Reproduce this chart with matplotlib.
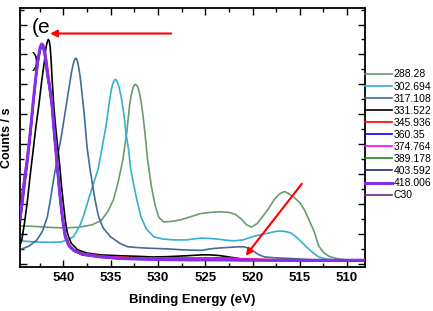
import matplotlib
matplotlib.use("Agg")
import matplotlib.pyplot as plt
from matplotlib.ticker import MultipleLocator, NullFormatter

plt.rcParams['font.family'] = ['Liberation Sans', 'DejaVu Sans']

# curve labels and colours (legend order)
labels = ["288.28", "302.694", "317.108", "331.522", "345.936", "360.35",
          "374.764", "389.178", "403.592", "418.006", "C30"]
colors = ["#6a9b6f", "#35afcf", "#3f6c9b", "#000000", "#ff0000", "#0000ff",
          "#ff00ff", "#238b23", "#1c267c", "#8431e6", "#7a1f8c"]

# separated peaks, each with its own energy grid (eV) and counts (a.u.)
e_288 = [544.6, 543.0, 541.5, 540.0, 538.5, 537.0, 536.0, 535.3, 534.7, 534.2,
         533.7, 533.3, 533.0, 532.85, 532.7, 532.55, 532.4, 532.25, 532.1, 531.95,
         531.8, 531.6, 531.4, 531.1, 530.7, 530.3, 529.9, 529.4, 528.5, 527.5,
         526.5, 525.5, 524.5, 523.5, 522.5, 521.8, 521.2, 520.6, 520.1, 519.5,
         519.0, 518.3, 517.7, 517.1, 516.6, 516.1, 515.6, 515.0, 514.5, 514.0,
         513.5, 513.0, 512.5, 511.9, 511.0, 510.0, 508.1]
c_288 = [1.27, 1.25, 1.22, 1.20, 1.22, 1.30, 1.45, 1.75, 2.15, 2.75,
         3.50, 4.40, 5.30, 5.60, 5.82, 5.95, 6.00, 5.97, 5.88, 5.70,
         5.45, 5.00, 4.45, 3.50, 2.60, 1.95, 1.55, 1.40, 1.42, 1.48,
         1.58, 1.68, 1.72, 1.74, 1.72, 1.65, 1.50, 1.30, 1.23, 1.35,
         1.55, 1.85, 2.15, 2.35, 2.42, 2.33, 2.22, 2.05, 1.80, 1.45,
         1.10, 0.60, 0.38, 0.25, 0.17, 0.13, 0.10]

e_302 = [544.6, 543.0, 541.5, 540.3, 539.5, 538.9, 538.3, 537.9, 537.3, 536.8,
         536.3, 535.9, 535.5, 535.1, 534.95, 534.8, 534.65, 534.5, 534.35, 534.2,
         534.05, 533.9, 533.6, 533.4, 533.1, 532.9, 532.6, 532.2, 531.8, 531.2,
         530.4, 529.5, 528.3, 527.0, 525.5, 524.5, 523.5, 522.5, 521.9, 521.0,
         520.1, 519.2, 518.3, 517.6, 517.1, 516.5, 515.9, 515.2, 514.5, 513.8,
         513.0, 512.2, 511.3, 510.0, 508.1]
c_302 = [0.77, 0.73, 0.72, 0.73, 0.80, 0.92, 1.25, 1.57, 2.20, 2.70,
         3.20, 3.90, 4.60, 5.50, 5.80, 6.00, 6.12, 6.17, 6.12, 6.00,
         5.82, 5.60, 5.00, 4.40, 3.80, 3.20, 2.70, 2.10, 1.57, 1.15,
         0.90, 0.83, 0.80, 0.80, 0.86, 0.85, 0.82, 0.78, 0.77, 0.80,
         0.90, 0.97, 1.03, 1.08, 1.10, 1.08, 1.03, 0.85, 0.63, 0.42,
         0.23, 0.16, 0.13, 0.11, 0.10]

e_317 = [544.6, 543.6, 542.8, 542.2, 541.7, 541.4, 541.1, 540.8, 540.5, 540.2,
         539.9, 539.6, 539.3, 539.15, 539.0, 538.85, 538.7, 538.55, 538.4, 538.25,
         538.1, 537.95, 537.8, 537.5, 537.2, 536.9, 536.6, 536.3, 535.8, 535.0,
         534.0, 533.2, 532.0, 530.7, 529.0, 527.5, 526.5, 525.4, 524.5, 523.5,
         522.5, 521.5, 520.9, 520.4, 519.9, 519.3, 518.7, 517.5, 516.0, 514.0,
         512.0, 508.1]
c_317 = [0.47, 0.60, 0.80, 1.10, 1.57, 2.10, 2.70, 3.25, 3.80, 4.30,
         4.90, 5.50, 6.10, 6.40, 6.62, 6.80, 6.88, 6.82, 6.60, 6.30,
         5.90, 5.45, 5.00, 3.90, 3.20, 2.60, 2.05, 1.60, 1.20, 0.90,
         0.68, 0.57, 0.54, 0.52, 0.50, 0.47, 0.46, 0.45, 0.50, 0.53,
         0.55, 0.57, 0.57, 0.52, 0.42, 0.30, 0.23, 0.20, 0.18, 0.14,
         0.12, 0.10]

e_331 = [544.6, 544.4, 544.1, 543.8, 543.5, 543.2, 542.9, 542.6, 542.3, 542.0,
         541.9, 541.8, 541.7, 541.6, 541.5, 541.4, 541.3, 541.2, 541.0, 540.8,
         540.6, 540.4, 540.2, 540.0, 539.8, 539.6, 539.2, 538.5, 537.5, 536.1,
         534.0, 532.0, 530.7, 529.0, 527.0, 525.4, 524.5, 523.6, 522.7, 521.9,
         521.0, 520.1, 518.0, 508.1]
c_331 = [0.62, 0.80, 1.40, 2.13, 3.00, 3.80, 4.60, 5.30, 6.10, 6.80,
         7.10, 7.30, 7.43, 7.50, 7.45, 7.25, 6.80, 6.20, 5.20, 4.50,
         3.90, 3.30, 2.60, 2.00, 1.45, 1.05, 0.70, 0.47, 0.36, 0.30,
         0.27, 0.25, 0.23, 0.24, 0.27, 0.30, 0.30, 0.28, 0.24, 0.20,
         0.15, 0.13, 0.11, 0.10]

# overlapping peaks share one energy grid
e_grp = [544.6, 544.4, 544.1, 543.8, 543.5, 543.2, 542.9, 542.75, 542.6, 542.45,
         542.3, 542.15, 542.0, 541.85, 541.7, 541.4, 541.2, 541.0, 540.8, 540.6,
         540.4, 540.2, 540.0, 539.8, 539.4, 538.9, 538.0, 536.0, 534.0, 532.0,
         529.0, 526.0, 523.0, 521.0, 518.0, 514.0, 508.1]
c_345 = [1.30, 1.80, 2.60, 3.40, 4.30, 5.30, 6.20, 6.60, 6.95, 7.20,
         7.30, 7.28, 7.20, 6.95, 6.60, 5.90, 5.40, 4.60, 3.90, 3.20,
         2.50, 1.90, 1.40, 1.00, 0.65, 0.48, 0.35, 0.26, 0.22, 0.20,
         0.20, 0.20, 0.20, 0.17, 0.14, 0.13, 0.12]
c_360 = [1.40, 1.90, 2.70, 3.50, 4.30, 5.30, 6.20, 6.60, 6.90, 7.15,
         7.25, 7.20, 7.00, 6.70, 6.30, 5.70, 5.20, 4.40, 3.70, 3.00,
         2.30, 1.70, 1.25, 0.88, 0.58, 0.43, 0.30, 0.22, 0.17, 0.15,
         0.14, 0.13, 0.13, 0.12, 0.12, 0.12, 0.12]
c_374 = [1.80, 2.30, 3.00, 3.70, 4.50, 5.50, 6.30, 6.65, 7.00, 7.22,
         7.30, 7.25, 7.00, 6.70, 6.30, 5.70, 5.20, 4.40, 3.70, 3.00,
         2.35, 1.75, 1.30, 0.92, 0.62, 0.47, 0.34, 0.25, 0.21, 0.19,
         0.19, 0.20, 0.19, 0.16, 0.13, 0.12, 0.12]
c_389 = [1.45, 1.95, 2.75, 3.50, 4.35, 5.35, 6.25, 6.65, 6.95, 7.20,
         7.30, 7.25, 7.05, 6.75, 6.35, 5.75, 5.25, 4.45, 3.75, 3.05,
         2.35, 1.75, 1.28, 0.90, 0.60, 0.45, 0.31, 0.23, 0.18, 0.16,
         0.15, 0.14, 0.14, 0.13, 0.12, 0.12, 0.12]
c_403 = [1.45, 1.95, 2.75, 3.45, 4.35, 5.35, 6.25, 6.65, 6.95, 7.20,
         7.30, 7.25, 7.05, 6.75, 6.35, 5.75, 5.25, 4.45, 3.75, 3.05,
         2.35, 1.75, 1.28, 0.90, 0.60, 0.45, 0.31, 0.23, 0.18, 0.16,
         0.14, 0.13, 0.13, 0.12, 0.12, 0.12, 0.12]
c_418 = [1.50, 2.00, 2.80, 3.50, 4.40, 5.40, 6.30, 6.70, 7.00, 7.25,
         7.35, 7.30, 7.10, 6.80, 6.40, 5.80, 5.30, 4.50, 3.80, 3.10,
         2.40, 1.80, 1.30, 0.90, 0.60, 0.45, 0.32, 0.23, 0.18, 0.16,
         0.14, 0.13, 0.13, 0.12, 0.12, 0.12, 0.12]
c_c30 = [1.50, 2.00, 2.80, 3.50, 4.40, 5.40, 6.30, 6.70, 7.00, 7.25,
         7.35, 7.30, 7.10, 6.80, 6.40, 5.80, 5.30, 4.50, 3.80, 3.10,
         2.40, 1.80, 1.30, 0.90, 0.60, 0.45, 0.32, 0.23, 0.18, 0.16,
         0.14, 0.13, 0.13, 0.12, 0.12, 0.12, 0.12]

series = [(e_288, c_288), (e_302, c_302), (e_317, c_317), (e_331, c_331),
          (e_grp, c_345), (e_grp, c_360), (e_grp, c_374), (e_grp, c_389),
          (e_grp, c_403), (e_grp, c_418), (e_grp, c_c30)]

fig = plt.figure(figsize=(4.33, 3.11), dpi=100)
ax = fig.add_axes([0.046, 0.142, 0.797, 0.832])

for (e, c), lab, col in zip(series, labels, colors):
    if lab == "418.006":
        ax.plot(e, c, color=col, lw=2.2, label=lab, zorder=5)
    else:
        ax.plot(e, c, color=col, lw=1.2, label=lab)

ax.set_xlim(544.6, 508.1)
ax.set_ylim(-0.1, 8.55)

ax.xaxis.set_major_locator(MultipleLocator(5))
ax.xaxis.set_minor_locator(MultipleLocator(2.5))
ax.yaxis.set_major_locator(MultipleLocator(1))
ax.yaxis.set_minor_locator(MultipleLocator(0.5))
ax.yaxis.set_major_formatter(NullFormatter())
ax.tick_params(which='both', direction='in', top=True, right=True, width=1)
ax.tick_params(which='major', length=5, labelsize=9.5, pad=4)
ax.tick_params(which='minor', length=3)
for lbl in ax.get_xticklabels():
    lbl.set_fontweight('bold')
for sp in ax.spines.values():
    sp.set_linewidth(1.3)

ax.set_xlabel("Binding Energy (eV)", fontsize=9.5, fontweight='bold', labelpad=7)
ax.set_ylabel("Counts / s", fontsize=9, fontweight='bold', labelpad=1)

# panel tag, split over two lines as in the original
ax.text(543.4, 7.9, "(e", fontsize=15, va='center', ha='left')
ax.text(543.3, 6.75, ")", fontsize=15, va='center', ha='left')

# red arrows
ax.annotate("", xy=(541.7, 7.7), xytext=(528.3, 7.7),
            arrowprops=dict(arrowstyle='-|>', color='red', lw=1.5, mutation_scale=10))
ax.annotate("", xy=(520.9, 0.2), xytext=(514.6, 2.75),
            arrowprops=dict(arrowstyle='-|>', color='red', lw=1.5, mutation_scale=10))

ax.legend(loc='center left', bbox_to_anchor=(1.0, 0.51), frameon=False,
          fontsize=7.5, handlelength=2.6, handletextpad=0.15,
          labelspacing=0.2, borderpad=0, borderaxespad=0)

fig.savefig("out.png", dpi=100)
